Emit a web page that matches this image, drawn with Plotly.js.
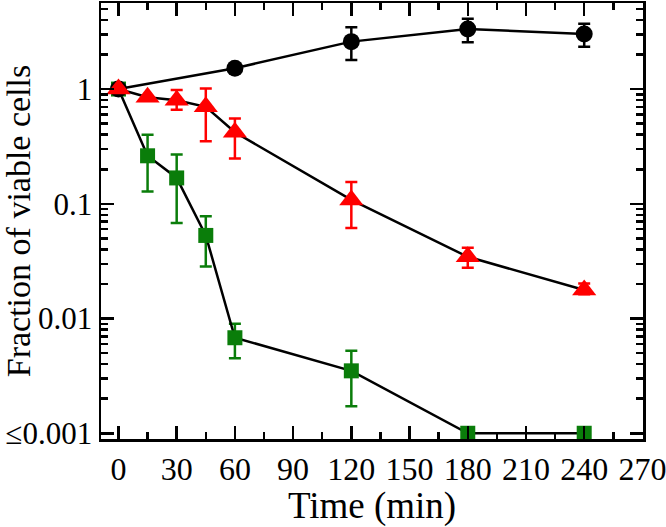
<!DOCTYPE html>
<html>
<head>
<meta charset="utf-8">
<script src="https://cdn.plot.ly/plotly-3.0.1.min.js"></script>
<style>html,body{margin:0;padding:0;background:#fff}#chart{width:666px;height:527px}</style>
</head>
<body>
<div id="chart"></div>
<script>
// Data
const timeBlack = [0, 60, 120, 180, 240];
const fracBlack = [1.0, 1.52, 2.59, 3.34, 3.02];
const errBlackPlus = [0, 0, 0.87, 0.75, 0.68];
const errBlackMinus = [0, 0, 0.80, 0.78, 0.68];

const timeRed = [0, 15, 30, 45, 60, 120, 180, 240];
const fracRed = [1.0, 0.85, 0.80, 0.70, 0.42, 0.108, 0.0345, 0.0177];
const errRedPlus = [0, 0, 0.18, 0.31, 0.135, 0.047, 0.0069, 0.0025];
const errRedMinus = [0, 0, 0.14, 0.35, 0.172, 0.0464, 0.0068, 0.0014];

const timeGreen = [0, 15, 30, 45, 60, 120, 180, 240];
const fracGreen = [1.0, 0.262, 0.168, 0.053, 0.0068, 0.0035, 0.001, 0.001];
const errGreenPlus = [0, 0.138, 0.101, 0.025, 0.0022, 0.00175, 0, 0];
const errGreenMinus = [0, 0.134, 0.100, 0.0246, 0.0023, 0.00178, 0, 0];

const xTickVals = [0, 30, 60, 90, 120, 150, 180, 210, 240, 270];
const yTickVals = [0.001, 0.01, 0.1, 1];
const yTickText = ['\u22640.001', '0.01', '0.1', '1'];

const font = 'Liberation Serif';

function trace(x, y, ep, em, color, symbol, size) {
  return {
    x: x, y: y, type: 'scatter', mode: 'lines+markers',
    line: {color: '#000', width: 2.5},
    marker: {color: color, symbol: symbol, size: size, line: {width: 0}},
    error_y: {type: 'data', symmetric: false, array: ep, arrayminus: em,
      color: color, thickness: 2.5, width: 6},
    cliponaxis: false,
    showlegend: false
  };
}

const data = [
  trace(timeGreen, fracGreen, errGreenPlus, errGreenMinus, '#0a7d0a', 'square', 15),
  trace(timeBlack, fracBlack, errBlackPlus, errBlackMinus, '#000000', 'circle', 17),
  trace(timeRed, fracRed, errRedPlus, errRedMinus, '#ff0000', 'triangle-up', 21)
];

const layout = {
  width: 666, height: 527,
  margin: {l: 101, r: 23, t: 3, b: 88},
  paper_bgcolor: '#fff', plot_bgcolor: '#fff',
  font: {family: font, color: '#000', size: 31},
  xaxis: {
    range: [-9, 270.3], tickvals: xTickVals, ticktext: xTickVals.map(String),
    ticks: 'inside', ticklen: 13, tickwidth: 2.5, tickcolor: '#000',
    showline: true, linewidth: 2.5, linecolor: '#000', mirror: 'allticks',
    showgrid: false, zeroline: false, ticklabeloverflow: 'allow',
    tickfont: {family: font, size: 32, color: '#000'},
    minor: {ticks: 'inside', ticklen: 7, tickwidth: 2.5, tickcolor: '#000', dtick: 15, tick0: 0, showgrid: false},
    title: {text: 'Time (min)', font: {family: font, size: 37, color: '#000'}, standoff: 2}
  },
  yaxis: {
    type: 'log', range: [-3.05, 0.75],
    tickvals: yTickVals, ticktext: yTickText,
    ticks: 'inside', ticklen: 13, tickwidth: 2.5, tickcolor: '#000',
    showline: true, linewidth: 2.5, linecolor: '#000', mirror: 'allticks',
    showgrid: false, zeroline: false,
    tickfont: {family: font, size: 31, color: '#000'},
    minor: {ticks: 'inside', ticklen: 7, tickwidth: 2.5, tickcolor: '#000', dtick: 'D1', showgrid: false},
    title: {text: 'Fraction of viable cells', font: {family: font, size: 34, color: '#000'}, standoff: 6}
  }
};

Plotly.newPlot('chart', data, layout, {staticPlot: true, displayModeBar: false});
</script>
</body>
</html>
